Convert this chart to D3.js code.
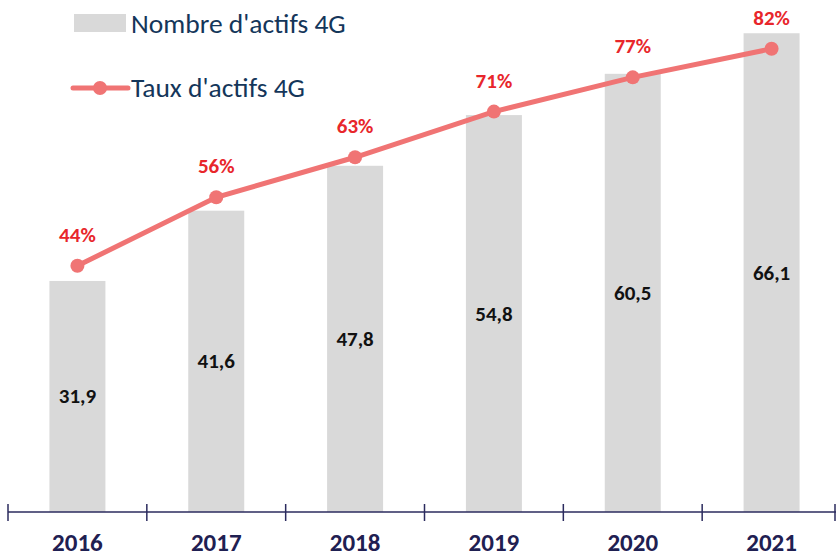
<!DOCTYPE html>
<html><head><meta charset="utf-8">
<script src="https://cdn.jsdelivr.net/npm/d3@7"></script>
<style>body{margin:0;background:#fff}svg{display:block}text{font-family:Carlito,Lato,"Open Sans",sans-serif}</style>
</head><body><svg id="c" width="836" height="557"></svg>
<script>
const years = ["2016","2017","2018","2019","2020","2021"];
const actifs = [31.9, 41.6, 47.8, 54.8, 60.5, 66.1];
const taux = [44, 56, 63, 71, 77, 82];
const actifsLabels = ["31,9","41,6","47,8","54,8","60,5","66,1"];
const tauxLabels = ["44%","56%","63%","71%","77%","82%"];

const svg = d3.select("#c");
const xb = d3.scaleBand().domain(years).range([8, 841]);
const y = d3.scaleLinear().domain([0, 70]).range([512, 5]);
const y2 = d3.scaleLinear().domain([0, 100]).range([517, -54]);
const cx = d => xb(d) + xb.bandwidth()/2;

// bars
svg.selectAll("rect.bar").data(years).join("rect")
  .attr("x", d => cx(d) - 28)
  .attr("width", 56)
  .attr("y", (d,i) => y(actifs[i]))
  .attr("height", (d,i) => y(0) - y(actifs[i]))
  .attr("fill", "#d9d9d9");

svg.selectAll("text.bv").data(years).join("text")
  .attr("x", d => cx(d))
  .attr("y", (d,i) => (y(actifs[i]) + y(0))/2 + 7)
  .attr("text-anchor","middle").attr("font-weight",900).attr("font-size",21)
  .attr("fill","#111").text((d,i)=>actifsLabels[i]);

// axis
const ax = svg.append("g").attr("transform","translate(0,512)");
ax.append("line").attr("x1",8).attr("x2",836).attr("stroke","#2b2b5e").attr("stroke-width",1.5);
const tickX = years.map(d => xb(d)).concat([835]);
ax.selectAll("line.t").data(tickX).join("line")
  .attr("x1",d=>d).attr("x2",d=>d).attr("y1",-8).attr("y2",9)
  .attr("stroke","#2b2b5e").attr("stroke-width",1.5);
svg.selectAll("text.yr").data(years).join("text")
  .attr("x", d => cx(d))
  .attr("y", 551).attr("text-anchor","middle").attr("font-weight",900)
  .attr("font-size",25).attr("fill","#1f2052").text(d=>d);

// line
const lineGen = d3.line().x((d,i)=>cx(years[i])).y(d=>y2(d));
svg.append("path").datum(taux).attr("d", lineGen).attr("fill","none")
  .attr("stroke","#f07474").attr("stroke-width",5);
svg.selectAll("circle.p").data(taux).join("circle")
  .attr("cx",(d,i)=>cx(years[i])).attr("cy",d=>y2(d)).attr("r",7)
  .attr("fill","#f07474");
svg.selectAll("text.pv").data(taux).join("text")
  .attr("x",(d,i)=>cx(years[i]))
  .attr("y",d=>y2(d) - 24).attr("text-anchor","middle").attr("font-weight",900)
  .attr("font-size",21).attr("fill","#e8262b").text((d,i)=>tauxLabels[i]);

// legend
svg.append("rect").attr("x",74).attr("y",14).attr("width",52).attr("height",18).attr("fill","#d9d9d9");
svg.append("text").attr("x",131).attr("y",33).attr("font-size",27.5).attr("fill","#14365a").text("Nombre d'actifs 4G");
svg.append("line").attr("x1",73).attr("x2",128).attr("y1",88).attr("y2",88).attr("stroke","#f07474").attr("stroke-width",5).attr("stroke-linecap","round");
svg.append("circle").attr("cx",100).attr("cy",88).attr("r",7).attr("fill","#f07474");
svg.append("text").attr("x",131).attr("y",97).attr("font-size",27.5).attr("fill","#14365a").text("Taux d'actifs 4G");
</script></body></html>
